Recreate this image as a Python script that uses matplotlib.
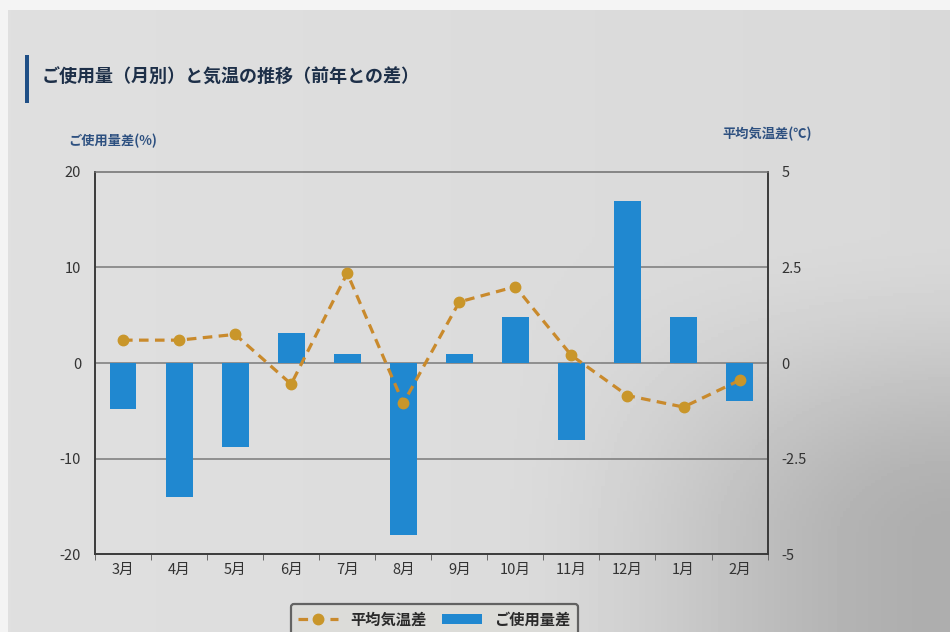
import numpy as np
import matplotlib
matplotlib.use("Agg")
import matplotlib.pyplot as plt
from matplotlib.patches import Rectangle

plt.rcParams['font.family'] = ['Noto Sans CJK JP', 'DejaVu Sans']

# Monthly data (difference from previous year)
months = ["3月", "4月", "5月", "6月", "7月", "8月", "9月", "10月", "11月", "12月", "1月", "2月"]
usage_diff = [-4.8, -14.0, -8.8, 3.1, 1.0, -18.0, 0.9, 4.8, -8.0, 17.0, 4.8, -4.0]      # %
temp_diff = [0.6, 0.6, 0.75, -0.55, 2.35, -1.05, 1.6, 2.0, 0.2, -0.85, -1.15, -0.45]  # ℃

title = "ご使用量（月別）と気温の推移（前年との差）"
left_label = "ご使用量差(%)"
right_label = "平均気温差(℃)"
left_ticks = [-20, -10, 0, 10, 20]
right_ticks = [-5, -2.5, 0, 2.5, 5]
right_ticklabels = ["-5", "-2.5", "0", "2.5", "5"]

bar_color = "#2088d0"
line_color = "#c98a2c"
marker_color = "#c9962a"
title_color = "#1d2f48"
label_color = "#2d5080"
tick_color = "#333333"

fig = plt.figure(figsize=(9.5, 6.32), dpi=100)
fig.patch.set_facecolor("#f4f4f4")

# paper background with soft shading toward the lower right
bg = fig.add_axes([8 / 950, 0, 1 - 8 / 950, 1 - 10 / 632], zorder=-10)
yy, xx = np.mgrid[0:1:200j, 0:1:300j]


def smooth(t):
    t = np.clip(t, 0, 1)
    return t * t * (3 - 2 * t)


shade = 0.875 - 0.025 * xx - 0.17 * smooth((xx - 0.5) / 0.5) * smooth((yy - 0.35) / 0.5)
bg.imshow(shade, cmap="gray", vmin=0, vmax=1, aspect="auto", extent=[0, 1, 0, 1])
bg.set_axis_off()

ax = fig.add_axes([0.100, 0.123, 0.708, 0.605])
ax.patch.set_alpha(0)
x = np.arange(len(months))

ax.bar(x, usage_diff, width=0.48, color=bar_color, zorder=3, label="ご使用量差")
ax.set_ylim(-20, 20)
ax.set_xlim(-0.5, len(months) - 0.5)
ax.set_yticks(left_ticks)
ax.set_yticklabels([str(t) for t in left_ticks])
for gy in (-10, 0, 10):
    ax.axhline(gy, color="#7a7a7a", lw=1.1, zorder=1)

ax.set_xticks(x)
ax.set_xticklabels(months)
ax.set_xticks(np.arange(-0.5, len(months), 1.0), minor=True)
ax.tick_params(axis="x", which="major", length=0, pad=6, labelsize=10.5, colors=tick_color)
ax.tick_params(axis="x", which="minor", length=4, direction="out", color="#555555")
ax.tick_params(axis="y", length=0, pad=10, labelsize=10.5, colors=tick_color)

for side in ("left", "bottom", "right"):
    ax.spines[side].set_color("#3a3a3a")
    ax.spines[side].set_linewidth(1.4)
ax.spines["top"].set_color("#6e6e6e")
ax.spines["top"].set_linewidth(1.1)

ax2 = ax.twinx()
ax2.plot(x, temp_diff, linestyle=(0, (3, 2)), color=line_color, lw=2.3,
         marker="o", markersize=7.5, markerfacecolor=marker_color,
         markeredgecolor=marker_color, zorder=4, label="平均気温差")
ax2.set_ylim(-5, 5)
ax2.set_yticks(right_ticks)
ax2.set_yticklabels(right_ticklabels)
ax2.tick_params(axis="y", length=0, pad=10, labelsize=10.5, colors=tick_color)
for s in ax2.spines.values():
    s.set_visible(False)

# title with accent bar
fig.add_artist(Rectangle((25 / 950, 1 - 103 / 632), 4 / 950, 48 / 632,
                         transform=fig.transFigure, color="#1f4f86", lw=0))
fig.text(42 / 950, 1 - 77 / 632, title, fontsize=13, fontweight="bold",
         color=title_color, va="center", ha="left")

fig.text(68 / 950, 1 - 141 / 632, left_label, fontsize=9.5, fontweight="bold",
         color=label_color, va="center", ha="left")
fig.text(722 / 950, 1 - 134 / 632, right_label, fontsize=9.5, fontweight="bold",
         color=label_color, va="center", ha="left")

h1, l1 = ax2.get_legend_handles_labels()
h2, l2 = ax.get_legend_handles_labels()
leg = fig.legend(h1 + h2, l1 + l2, loc="upper center", bbox_to_anchor=(0.457, 1 - 596 / 632),
                 ncol=2, frameon=True, fontsize=11, handlelength=2.6, columnspacing=1.0,
                 borderpad=0.5, fancybox=True)
leg.get_frame().set_edgecolor("#444444")
leg.get_frame().set_linewidth(1.6)
leg.get_frame().set_facecolor("#dcdcd8")
for t in leg.get_texts():
    t.set_fontweight("bold")
    t.set_color("#2a2a2a")

fig.savefig("out.png", dpi=100, facecolor=fig.get_facecolor())
